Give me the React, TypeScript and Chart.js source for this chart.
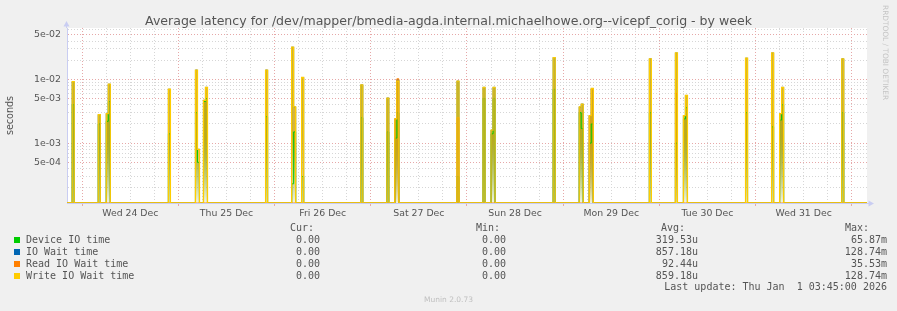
import React, { useEffect, useRef } from 'react';
import { Chart, registerables } from 'chart.js';

Chart.register(...registerables);

// ---------------- data ----------------
const chartTitle =
  'Average latency for /dev/mapper/bmedia-agda.internal.michaelhowe.org--vicepf_corig - by week';
const yAxisTitle = 'seconds';

// x values are hours since Wed 24 Dec 00:00
const xStartHour = -3.8;
const xEndHour = 195.8;
const gridStepHours = 6;
const dayLabels = ['Wed 24 Dec', 'Thu 25 Dec', 'Fri 26 Dec', 'Sat 27 Dec', 'Sun 28 Dec', 'Mon 29 Dec', 'Tue 30 Dec', 'Wed 31 Dec'];
const dayLabelHours = [12, 36, 60, 84, 108, 132, 156, 180];

const yMinValue = 1.15e-4;
const yMaxValue = 6.4e-2;
const yTickLabels = ['5e-04', '1e-03', '5e-03', '1e-02', '5e-02'];

// 30-minute consolidated samples (only the non-zero ones; all others are 0)
const sampleStepHours = 0.5;
const sampleHours = [
  -2.5, 4.0, 6.0, 6.5, 21.5, 28.25, 28.75, 30.25, 30.75, 45.75, 52.25, 52.75, 54.75, 69.5, 76.0, 78.0, 78.5,
  93.5, 100.0, 102.0, 102.5, 117.5, 124.0, 124.5, 126.5, 127.0, 141.5, 148.0, 150.0, 150.5, 165.5, 172.0,
  174.0, 174.5, 189.5,
];
const deviceIOTime = [
  4.0e-3, 2.0e-3, 2.2e-3, 4.5e-3, 1.4e-3, 3.0e-3, 5.0e-4, 4.5e-3, 5.0e-3, 2.6e-3, 2.3e-4, 1.5e-3, 3.0e-4, 2.5e-3,
  1.5e-3, 1.2e-3, 3.0e-3, 3.0e-4, 5.0e-3, 1.4e-3, 5.0e-3, 7.0e-3, 3.0e-3, 1.7e-3, 1.0e-3, 2.0e-3, 3.0e-3,
  1.0e-3, 2.4e-3, 3.6e-3, 3.0e-3, 1.8e-3, 2.3e-3, 4.0e-3, 3.0e-3,
];
const ioWaitTime = [
  9.2e-3, 2.8e-3, 2.9e-3, 8.4e-3, 7.0e-3, 1.4e-2, 8.0e-4, 4.7e-3, 7.5e-3, 1.4e-2, 3.2e-2, 3.7e-3, 1.07e-2, 8.2e-3,
  5.1e-3, 2.4e-3, 9.8e-3, 9.4e-3, 7.5e-3, 1.6e-3, 7.5e-3, 2.2e-2, 3.7e-3, 4.1e-3, 2.7e-3, 7.2e-3, 2.1e-2,
  2.6e-2, 2.7e-3, 5.6e-3, 2.15e-2, 2.6e-2, 2.9e-3, 7.5e-3, 2.1e-2,
];
const readIOWaitTime = [
  0, 0, 0, 0, 0, 0, 0, 0, 0, 0, 0, 0, 0, 0, 0, 2.4e-3, 1.02e-2, 2.5e-3, 0, 0, 0, 0, 0, 0, 2.7e-3, 7.0e-3, 0,
  6.0e-3, 0, 0, 0, 0, 0, 0, 0,
];
const writeIOWaitTime = [
  9.2e-3, 2.8e-3, 2.9e-3, 8.4e-3, 7.0e-3, 1.4e-2, 8.0e-4, 4.7e-3, 7.5e-3, 1.4e-2, 3.2e-2, 3.7e-3, 1.07e-2, 8.2e-3,
  5.1e-3, 2.4e-3, 9.4e-3, 9.4e-3, 7.5e-3, 1.6e-3, 7.5e-3, 2.2e-2, 3.7e-3, 4.1e-3, 2.7e-3, 7.2e-3, 2.1e-2,
  2.6e-2, 2.7e-3, 5.6e-3, 2.15e-2, 2.6e-2, 2.9e-3, 7.5e-3, 2.1e-2,
];

const seriesNames = ['Device IO time', 'IO Wait time', 'Read IO Wait time', 'Write IO Wait time'];
const seriesColors = ['#00cc00', '#0066b3', '#ff8000', '#ffcc00'];
const curValues = ['0.00', '0.00', '0.00', '0.00'];
const minValues = ['0.00', '0.00', '0.00', '0.00'];
const avgValues = ['319.53u', '857.18u', '92.44u', '859.18u'];
const maxValues = ['65.87m', '128.74m', '35.53m', '128.74m'];
const statHeaders = ['Cur:', 'Min:', 'Avg:', 'Max:'];
const lastUpdateText = 'Last update: Thu Jan  1 03:45:00 2026';
const muninVersionText = 'Munin 2.0.73';
const rrdCreditText = 'RRDTOOL / TOBI OETIKER';

// ---------------- style / layout ----------------
const W = 897;
const H = 311;
const PLOT_LEFT = 67;
const PLOT_RIGHT = 867;
const PLOT_TOP = 28;
const PLOT_BOTTOM = 203;
const TEXT = '#555555';
const AXIS = '#c9cdf2';
const GRID_MINOR = '#d6d6d6';
const GRID_MAJOR = '#e6a8a8';
const SANS = "'DejaVu Sans', sans-serif";
const MONO = "'DejaVu Sans Mono', monospace";
const TICK_FONT = 9.4;

const fills: (string | null)[] = ['30,160,30', null, '235,135,0', '205,165,15'];
const fillAlphas = [0.7, 0, 0.7, 0.82];
const lineWidths = [1, 1, 1, 1.3];
const drawOrders = [4, 3, 2, 1];
const seriesValues = [deviceIOTime, ioWaitTime, readIOWaitTime, writeIOWaitTime];

function buildSeries(values: number[]) {
  const pts: { x: number; y: number }[] = [{ x: xStartHour, y: yMinValue }];
  sampleHours.forEach((t, i) => {
    pts.push({ x: t, y: Math.max(values[i], yMinValue) });
    const next = sampleHours[i + 1];
    if (next === undefined || Math.abs(next - t - sampleStepHours) > 1e-9) {
      pts.push({ x: t + sampleStepHours, y: yMinValue });
    }
  });
  pts.push({ x: xEndHour, y: yMinValue });
  return pts;
}

const yLabelValues = yTickLabels.map((s) => parseFloat(s));
const yLabelFor = (v: number) => {
  const i = yLabelValues.findIndex((lv) => Math.abs(v / lv - 1) < 1e-6);
  return i >= 0 ? yTickLabels[i] : '';
};

function gradientFill(rgb: string, alpha: number) {
  return (ctx: any) => {
    const chart = ctx.chart;
    const a = chart.chartArea;
    if (!a) return `rgba(${rgb},${alpha})`;
    const g = chart.ctx.createLinearGradient(0, a.top, 0, a.bottom);
    g.addColorStop(0, `rgba(${rgb},${alpha})`);
    g.addColorStop(0.62, `rgba(${rgb},${alpha})`);
    g.addColorStop(1, `rgba(${rgb},0.05)`);
    return g;
  };
}

const plotBackground = {
  id: 'plotBackground',
  beforeDraw(chart: any) {
    const { ctx, chartArea: a } = chart;
    ctx.save();
    ctx.fillStyle = '#ffffff';
    ctx.fillRect(a.left, a.top, a.right - a.left, a.bottom - a.top);
    ctx.restore();
  },
};

const axisArrows = {
  id: 'axisArrows',
  afterDraw(chart: any) {
    const { ctx, chartArea: a } = chart;
    ctx.save();
    ctx.strokeStyle = AXIS;
    ctx.fillStyle = AXIS;
    ctx.lineWidth = 1;
    const x = Math.round(a.left) - 0.5;
    const y = Math.round(a.bottom) + 0.5;
    ctx.beginPath();
    ctx.moveTo(x, a.top);
    ctx.lineTo(x, a.top - 3);
    ctx.moveTo(a.right, y);
    ctx.lineTo(a.right + 3, y);
    ctx.stroke();
    ctx.beginPath();
    ctx.moveTo(x, a.top - 7);
    ctx.lineTo(x - 3, a.top - 1.5);
    ctx.lineTo(x + 3, a.top - 1.5);
    ctx.closePath();
    ctx.fill();
    ctx.beginPath();
    ctx.moveTo(a.right + 7, y);
    ctx.lineTo(a.right + 1.5, y - 3);
    ctx.lineTo(a.right + 1.5, y + 3);
    ctx.closePath();
    ctx.fill();
    ctx.restore();
  },
};

// legend text positions (baselines)
const HEADER_BASE = 231;
const ROW_BASE = [243, 255, 267, 279];
const LAST_BASE = 290.6;
const MONO_SIZE = 10;
const MONO_LH = 12;
const statLeft = [290, 476, 661, 845];
const statRight = [320, 506, 698, 887];

function monoTop(baseline: number) {
  return baseline - MONO_LH / 2 - 0.346 * MONO_SIZE;
}

export default function App() {
  const canvasRef = useRef<HTMLCanvasElement | null>(null);

  useEffect(() => {
    const canvas = canvasRef.current;
    if (!canvas) return;
    const datasets = seriesNames.map((name, i) => ({
      label: name,
      data: buildSeries(seriesValues[i]),
      borderColor: seriesColors[i],
      borderWidth: lineWidths[i],
      backgroundColor: fills[i] ? gradientFill(fills[i] as string, fillAlphas[i]) : 'rgba(0,0,0,0)',
      fill: fills[i] ? 'start' : false,
      stepped: true,
      pointRadius: 0,
      order: drawOrders[i],
    }));

    const chart = new Chart(canvas, {
      type: 'line',
      data: { datasets } as any,
      options: {
        animation: false,
        responsive: false,
        devicePixelRatio: 1,
        layout: { padding: { left: 0, right: W - PLOT_RIGHT, top: PLOT_TOP, bottom: 0 } },
        plugins: {
          legend: { display: false },
          tooltip: { enabled: false },
          title: { display: false },
          filler: { drawTime: 'beforeDatasetsDraw' },
        } as any,
        elements: { point: { radius: 0 }, line: { tension: 0 } },
        scales: {
          x: {
            type: 'linear',
            min: xStartHour,
            max: xEndHour,
            afterFit: (s: any) => {
              s.height = H - PLOT_BOTTOM;
            },
            afterBuildTicks: (s: any) => {
              const ticks: any[] = [];
              for (let h = Math.ceil(xStartHour / gridStepHours) * gridStepHours; h <= xEndHour; h += gridStepHours) {
                ticks.push({ value: h });
              }
              s.ticks = ticks;
            },
            ticks: {
              autoSkip: false,
              maxRotation: 0,
              minRotation: 0,
              padding: 2,
              color: TEXT,
              font: { family: SANS, size: 9.33 },
              callback: (v: any) => {
                const i = dayLabelHours.indexOf(Number(v));
                return i >= 0 ? dayLabels[i] : '';
              },
            },
            grid: {
              color: (ctx: any) => (ctx.tick && ctx.tick.value % 24 === 0 ? GRID_MAJOR : GRID_MINOR),
              lineWidth: 1,
              drawTicks: true,
              tickLength: 3,
              tickColor: (ctx: any) => (ctx.tick && ctx.tick.value % 24 === 0 ? GRID_MAJOR : 'rgba(0,0,0,0)'),
            },
            border: { display: true, color: AXIS, width: 1, dash: [1, 2] },
          },
          y: {
            type: 'logarithmic',
            min: yMinValue,
            max: yMaxValue,
            afterFit: (s: any) => {
              s.width = PLOT_LEFT;
            },
            afterBuildTicks: (s: any) => {
              const ticks: any[] = [];
              const e0 = Math.floor(Math.log10(yMinValue));
              const e1 = Math.ceil(Math.log10(yMaxValue));
              for (let e = e0; e <= e1; e++) {
                for (let m = 1; m <= 9; m++) {
                  const v = m * Math.pow(10, e);
                  if (v >= yMinValue && v <= yMaxValue) ticks.push({ value: v });
                }
              }
              s.ticks = ticks;
            },
            ticks: {
              autoSkip: false,
              padding: 6,
              color: TEXT,
              font: { family: SANS, size: TICK_FONT },
              callback: (v: any) => yLabelFor(Number(v)),
            },
            grid: {
              color: (ctx: any) => (ctx.tick && yLabelFor(ctx.tick.value) ? GRID_MAJOR : GRID_MINOR),
              lineWidth: 1,
              drawTicks: false,
            },
            border: { display: true, color: AXIS, width: 1, dash: [1, 2] },
            title: {
              display: true,
              text: yAxisTitle,
              color: TEXT,
              font: { family: SANS, size: 9.6 },
              padding: { top: 5, bottom: 0 },
            },
          },
        },
      } as any,
      plugins: [plotBackground, axisArrows],
    });
    return () => chart.destroy();
  }, []);

  const mono: React.CSSProperties = {
    position: 'absolute',
    fontFamily: MONO,
    fontSize: MONO_SIZE,
    lineHeight: `${MONO_LH}px`,
    height: MONO_LH,
    whiteSpace: 'pre',
    color: TEXT,
  };

  return (
    <div
      style={{
        position: 'absolute',
        left: 0,
        top: 0,
        width: W,
        height: H,
        background: '#f0f0f0',
        overflow: 'hidden',
      }}
    >
      <canvas ref={canvasRef} width={W} height={H} style={{ position: 'absolute', left: 0, top: 0 }} />
      <div
        style={{
          position: 'absolute',
          left: 0,
          width: W,
          top: 12.6,
          lineHeight: '16px',
          height: 16,
          textAlign: 'center',
          fontFamily: SANS,
          fontSize: 12.55,
          color: TEXT,
          whiteSpace: 'pre',
        }}
      >
        {chartTitle}
      </div>
      <div
        style={{
          position: 'absolute',
          left: 880,
          top: 5,
          writingMode: 'vertical-rl',
          fontFamily: SANS,
          fontSize: 7.4,
          lineHeight: '10px',
          color: '#c4c4c4',
          whiteSpace: 'pre',
        }}
      >
        {rrdCreditText}
      </div>
      {statHeaders.map((h, i) => (
        <div key={h} style={{ ...mono, left: statLeft[i], top: monoTop(HEADER_BASE) }}>
          {h}
        </div>
      ))}
      {seriesNames.map((name, r) => (
        <React.Fragment key={name}>
          <div
            style={{
              position: 'absolute',
              left: 14,
              top: ROW_BASE[r] - 6,
              width: 5.5,
              height: 5.5,
              background: seriesColors[r],
            }}
          />
          <div style={{ ...mono, left: 26, top: monoTop(ROW_BASE[r]) }}>{name}</div>
          {[curValues, minValues, avgValues, maxValues].map((col, c) => (
            <div
              key={c}
              style={{ ...mono, right: W - statRight[c], top: monoTop(ROW_BASE[r]), textAlign: 'right' }}
            >
              {col[r]}
            </div>
          ))}
        </React.Fragment>
      ))}
      <div style={{ ...mono, right: W - statRight[3], top: monoTop(LAST_BASE), textAlign: 'right' }}>
        {lastUpdateText}
      </div>
      <div
        style={{
          position: 'absolute',
          left: 0,
          width: W,
          top: 295,
          textAlign: 'center',
          fontFamily: SANS,
          fontSize: 7.5,
          lineHeight: '10px',
          color: '#c0c0c0',
        }}
      >
        {muninVersionText}
      </div>
    </div>
  );
}
